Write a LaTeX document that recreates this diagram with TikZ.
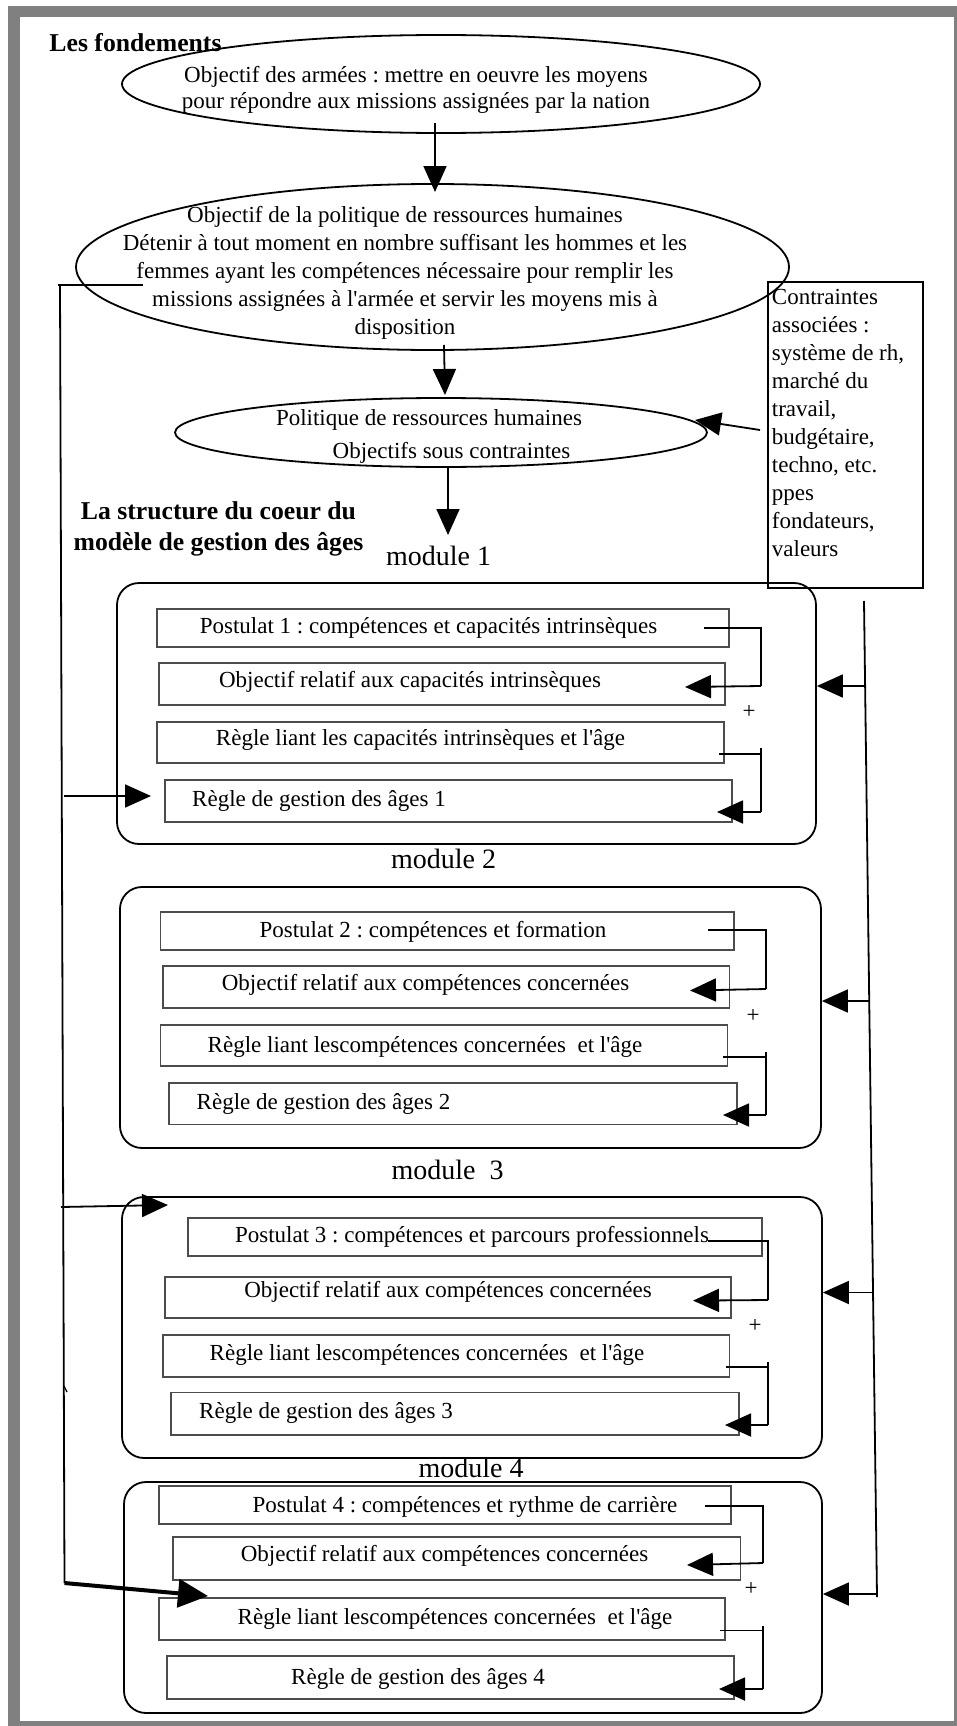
\documentclass[tikz,border=0pt]{standalone}
\usepackage{fontspec}
\setmainfont{Liberation Serif}
\usetikzlibrary{shapes.geometric,arrows.meta}
\frenchspacing

\tikzset{every picture/.style={line width=1.8pt}}
\tikzset{
  bulle/.style={draw, ellipse, inner sep=0pt},
  module/.style={draw, rounded corners=22pt, inner sep=0pt},
  boite/.style={draw=black!70, line width=1.1pt, inner sep=0pt},
  cadre/.style={draw, inner sep=0pt},
  texte/.style={inner sep=0pt, font=\fontsize{23}{28}\selectfont},
  titre/.style={inner sep=0pt, font=\fontsize{25.7}{31}\selectfont\bfseries},
  etiquette/.style={inner sep=0pt, font=\fontsize{28}{34}\selectfont},
  fleche/.style={-{Triangle[length=26pt,width=23pt]}},
  grossefleche/.style={line width=4pt, -{Triangle[length=30pt,width=28pt]}},
}

\begin{document}
\begin{tikzpicture}[x=1pt,y=1pt,yscale=-1,xscale=1]
%Shape: Frame
\useasboundingbox (0,0) rectangle (957,1726);
\fill[gray] (8,6) rectangle (957,1726);
\fill[white] (20,17) rectangle (954,1721);

%Shape: Ellipse [les fondements]
\node[bulle, minimum width=638pt, minimum height=98pt] (e1) at (441,84) {};
\node[bulle, minimum width=713pt, minimum height=166pt] (e2) at (432.5,267) {};
\node[bulle, minimum width=532pt, minimum height=69pt] (e3) at (441,432.5) {};
%Shape: Rectangle [contraintes]
\node[cadre, minimum width=155pt, minimum height=306pt] (contr) at (845.5,435) {};

%Shape: Rounded Rect [modules]
\node[module, minimum width=699pt, minimum height=261pt] (m1) at (466.5,713.5) {};
\node[module, minimum width=701pt, minimum height=261pt] (m2) at (470.5,1017.5) {};
\node[module, minimum width=700pt, minimum height=261pt] (m3) at (472,1327.5) {};
\node[module, minimum width=698pt, minimum height=231pt] (m4) at (473,1597.5) {};

%Shape: Rectangle [module 1]
\node[boite, minimum width=572pt, minimum height=38pt] (p1) at (443,628) {};
\node[boite, minimum width=566pt, minimum height=42pt] (o1) at (442,684) {};
\node[boite, minimum width=567pt, minimum height=41pt] (r1) at (440.5,742.5) {};
\node[boite, minimum width=567pt, minimum height=42pt] (g1) at (448.5,801) {};
%Shape: Rectangle [module 2]
\node[boite, minimum width=573.5pt, minimum height=38pt] (p2) at (447.25,931) {};
\node[boite, minimum width=566.5pt, minimum height=42pt] (o2) at (446.25,987) {};
\node[boite, minimum width=567.2pt, minimum height=41pt] (r2) at (444.1,1045.5) {};
\node[boite, minimum width=568pt, minimum height=41.5pt] (g2) at (453,1103.75) {};
%Shape: Rectangle [module 3]
\node[boite, minimum width=574pt, minimum height=38pt] (p3) at (475,1237) {};
\node[boite, minimum width=566pt, minimum height=41pt] (o3) at (448,1297.5) {};
\node[boite, minimum width=566.5pt, minimum height=42pt] (r3) at (446.25,1356) {};
\node[boite, minimum width=568pt, minimum height=42.5pt] (g3) at (455,1413.75) {};
%Shape: Rectangle [module 4]
\node[boite, minimum width=572pt, minimum height=38pt] (p4) at (445,1505) {};
\node[boite, minimum width=567.5pt, minimum height=43pt] (o4) at (456.75,1558.5) {};
\node[boite, minimum width=566pt, minimum height=42pt] (r4) at (442,1619) {};
\node[boite, minimum width=567pt, minimum height=43pt] (g4) at (450.5,1677.5) {};

%Straight Lines [descente]
\coordinate (a1) at (435,123);
\coordinate (a2) at (435,192);
\draw[fleche] (a1) -- (a2);
\coordinate (b1) at (444,345);
\coordinate (b2) at (445,395);
\draw[fleche] (b1) -- (b2);
\coordinate (c1) at (448,467);
\coordinate (c2) at (448,535);
\draw[fleche] (c1) -- (c2);
\coordinate (k1) at (760,430);
\coordinate (k2) at (695,420);
\draw[fleche] (k1) -- (k2);

%Straight Lines [retour gauche]
\coordinate (gh0) at (58,285);
\coordinate (gh1) at (143,285);
\draw (gh0) -- (gh1);
\coordinate (gl0) at (60,285);
\coordinate (gl5) at (64.5,1583);
\draw (gl0) -- (gl5);
\coordinate (gl1) at (64,796);
\coordinate (gt1) at (151,796);
\draw[fleche] (gl1) -- (gt1);
\coordinate (gl3) at (61,1207);
\coordinate (gt3) at (168,1205);
\draw[fleche] (gl3) -- (gt3);
\coordinate (gt5) at (208,1596);
\draw[grossefleche] (gl5) -- (gt5);
\draw[line width=1.2pt] (64,1386) -- (67,1392);

%Straight Lines [contraintes droite]
\coordinate (dr0) at (864,601);
\coordinate (dr5) at (877,1597);
\draw (dr0) -- (dr5);
\coordinate (dr1) at (865,686);
\draw[fleche] (dr1) -- (dr1 -| m1.east);
\coordinate (dr2) at (869,1001);
\draw[fleche] (dr2) -- (dr2 -| m2.east);
\coordinate (dr3) at (873,1292.5);
\draw[fleche] (dr3) -- (dr3 -| m3.east);
\coordinate (dr4) at (877,1594);
\draw[fleche] (dr4) -- (dr4 -| m4.east);

%Straight Lines [module 1]
\coordinate (s11) at (704,628);
\coordinate (k11) at (761,686);
\coordinate (t11) at (685,687);
\draw (s11) -| (k11);
\draw[fleche] (k11) -- (t11);
\coordinate (s12) at (719,754);
\coordinate (h12) at (761,748);
\coordinate (k12) at (761,812);
\coordinate (t12) at (717,812);
\draw (s12) -- (s12 -| k12);
\draw (h12) -- (k12);
\draw[fleche] (k12) -- (t12);
%Straight Lines [module 2]
\coordinate (s21) at (708,930);
\coordinate (k21) at (766,989);
\coordinate (t21) at (690,990.5);
\draw (s21) -| (k21);
\draw[fleche] (k21) -- (t21);
\coordinate (s22) at (723,1057);
\coordinate (h22) at (766,1052);
\coordinate (k22) at (766,1115);
\coordinate (t22) at (723,1115);
\draw (s22) -- (s22 -| k22);
\draw (h22) -- (k22);
\draw[fleche] (k22) -- (t22);
%Straight Lines [module 3]
\coordinate (s31) at (708,1241);
\coordinate (k31) at (768,1300);
\coordinate (t31) at (693,1300.6);
\draw (s31) -| (k31);
\draw[fleche] (k31) -- (t31);
\coordinate (s32) at (726,1367);
\coordinate (h32) at (768,1362);
\coordinate (k32) at (768,1425);
\coordinate (t32) at (725,1425);
\draw (s32) -- (s32 -| k32);
\draw (h32) -- (k32);
\draw[fleche] (k32) -- (t32);
%Straight Lines [module 4]
\coordinate (s41) at (705,1505.6);
\coordinate (k41) at (763,1563);
\coordinate (t41) at (687,1565);
\draw (s41) -| (k41);
\draw[fleche] (k41) -- (t41);
\coordinate (s42) at (720,1630.5);
\coordinate (h42) at (763,1626);
\coordinate (k42) at (763,1689);
\coordinate (t42) at (719,1689);
\draw (s42) -- (s42 -| k42);
\draw (h42) -- (k42);
\draw[fleche] (k42) -- (t42);

% Text Node
\node[titre, anchor=base] (fond) at (135.5,52) {Les fondements};
% Text Node
\node[texte, align=center, font=\fontsize{23}{26}\selectfont] (te1) at (416,89.5) {Objectif des armées : mettre en oeuvre les moyens\\pour répondre aux missions assignées par la nation};
% Text Node
\node[texte, align=center] (te2) at (405,272.5) {Objectif de la politique de ressources humaines\\Détenir à tout moment en nombre suffisant les hommes et les\\femmes ayant les compétences nécessaire pour remplir les\\missions assignées à l\textquotesingle armée et servir les moyens mis à\\disposition};
% Text Node
\node[texte, anchor=base] (te3a) at (429,425) {Politique de ressources humaines};
\node[texte, anchor=base] (te3b) at (451.5,458) {Objectifs sous contraintes};
% Text Node
\node[texte, align=left, anchor=north west] (tcontr) at (771,288) {Contraintes\\associées :\\système de rh,\\marché du\\travail,\\budgétaire,\\techno, etc.\\ppes\\fondateurs,\\valeurs};
% Text Node
\node[titre, align=center] (struct) at (218.5,528.6) {La structure du coeur du\\modèle de gestion des âges};

% Text Node [module 1]
\node[etiquette, anchor=base] (lm1) at (438.5,565) {module 1};
\node[texte, anchor=base] (tp1) at (428.5,633) {Postulat 1 : compétences et capacités intrinsèques};
\node[texte, anchor=base] (to1) at (410,687) {Objectif relatif aux capacités intrinsèques};
\node[texte, anchor=base] (tr1) at (420.5,745.6) {Règle liant les capacités intrinsèques et l\textquotesingle âge};
\node[texte, anchor=base] (tg1) at (319,806) {Règle de gestion des âges 1};
\node[texte] (plus1) at (749,712) {+};
% Text Node [module 2]
\node[etiquette, anchor=base] (lm2) at (443.5,868) {module 2};
\node[texte, anchor=base] (tp2) at (433,937) {Postulat 2 : compétences et formation};
\node[texte, anchor=base] (to2) at (425.5,990.5) {Objectif relatif aux compétences concernées};
\node[texte, anchor=base] (tr2) at (425,1052) {Règle liant lescompétences concernées\ \ et l\textquotesingle âge};
\node[texte, anchor=base] (tg2) at (323.5,1109) {Règle de gestion des âges 2};
\node[texte] (plus2) at (753,1016) {+};
% Text Node [module 3]
\node[etiquette, anchor=base] (lm3) at (447.5,1179) {module\ \ 3};
\node[texte, anchor=base] (tp3) at (472,1242) {Postulat 3 : compétences et parcours professionnels};
\node[texte, anchor=base] (to3) at (448,1297) {Objectif relatif aux compétences concernées};
\node[texte, anchor=base] (tr3) at (427,1360) {Règle liant lescompétences concernées\ \ et l\textquotesingle âge};
\node[texte, anchor=base] (tg3) at (326,1418) {Règle de gestion des âges 3};
\node[texte] (plus3) at (755,1326) {+};
% Text Node [module 4]
\node[etiquette, anchor=base] (lm4) at (471,1477) {module 4};
\node[texte, anchor=base] (tp4) at (465,1512) {Postulat 4 : compétences et rythme de carrière};
\node[texte, anchor=base] (to4) at (444.5,1561) {Objectif relatif aux compétences concernées};
\node[texte, anchor=base] (tr4) at (455,1624) {Règle liant lescompétences concernées\ \ et l\textquotesingle âge};
\node[texte, anchor=base] (tg4) at (418,1684.5) {Règle de gestion des âges 4};
\node[texte] (plus4) at (751,1589) {+};

\end{tikzpicture}
\end{document}
